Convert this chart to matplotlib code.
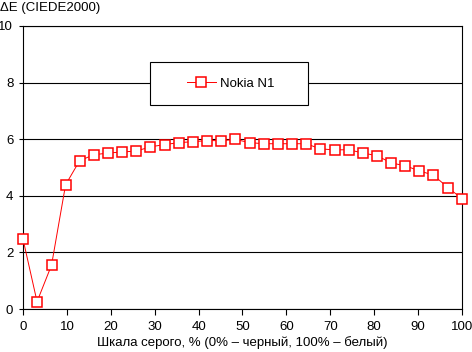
import numpy as np
import matplotlib
matplotlib.use("Agg")
import matplotlib.pyplot as plt
from matplotlib.patches import Rectangle

# grey level, % (32 steps from 0 to 100)
gray_pct = [0.0, 3.2, 6.5, 9.7, 12.9, 16.1, 19.4, 22.6, 25.8, 29.0, 32.3,
            35.5, 38.7, 41.9, 45.2, 48.4, 51.6, 54.8, 58.1, 61.3, 64.5,
            67.7, 71.0, 74.2, 77.4, 80.6, 83.9, 87.1, 90.3, 93.5, 96.8, 100.0]
delta_e = [2.47, 0.26, 1.55, 4.39, 5.24, 5.45, 5.51, 5.55, 5.58, 5.73, 5.81,
           5.88, 5.91, 5.95, 5.95, 5.99, 5.88, 5.84, 5.84, 5.84, 5.84,
           5.66, 5.62, 5.63, 5.51, 5.42, 5.16, 5.06, 4.88, 4.73, 4.29, 3.90]
series_name = "Nokia N1"
x_ticks = list(range(0, 101, 10))
y_ticks = list(range(0, 11, 2))

plt.rcParams['font.family'] = ['Liberation Sans', 'DejaVu Sans']
plt.rcParams['font.size'] = 9.5

fig = plt.figure(figsize=(4.72, 3.52), dpi=100)
ax = fig.add_axes([23/472, 1-309/352, 439/472, 283/352])

ax.plot(gray_pct, delta_e, color="red", lw=0.7, marker="s", ms=6.5,
        mfc="white", mec="red", mew=1.1, label=series_name, zorder=5,
        clip_on=False)

ax.set_xlim(0, 100)
ax.set_ylim(0, 10)
ax.set_xticks(x_ticks)
ax.set_yticks(y_ticks)
ax.tick_params(axis="x", direction="out", length=4, width=0.8, pad=5)
ax.tick_params(axis="y", direction="out", length=3, width=0.8, pad=4)
ax.yaxis.grid(True, color="black", lw=0.8)
ax.set_axisbelow(True)
for s in ax.spines.values():
    s.set_linewidth(0.8)
    s.set_color("black")

# legend box
box = Rectangle((0.2893, 0.7208), 0.3599, 0.152, transform=ax.transAxes,
                facecolor="white", edgecolor="black", lw=0.8, zorder=3)
ax.add_patch(box)
leg = ax.legend(loc="center", bbox_to_anchor=(0.4727, 0.797), frameon=False,
                handlelength=2.2, handletextpad=0.3, fontsize=9.5)
leg.set_zorder(6)

ax.set_xlabel("Шкала серого, % (0% – черный, 100% – белый)", labelpad=2)
fig.text(0.0, 0.995, "ΔE (CIEDE2000)", ha="left", va="top", fontsize=9.5)

fig.savefig("out.png", dpi=100)
